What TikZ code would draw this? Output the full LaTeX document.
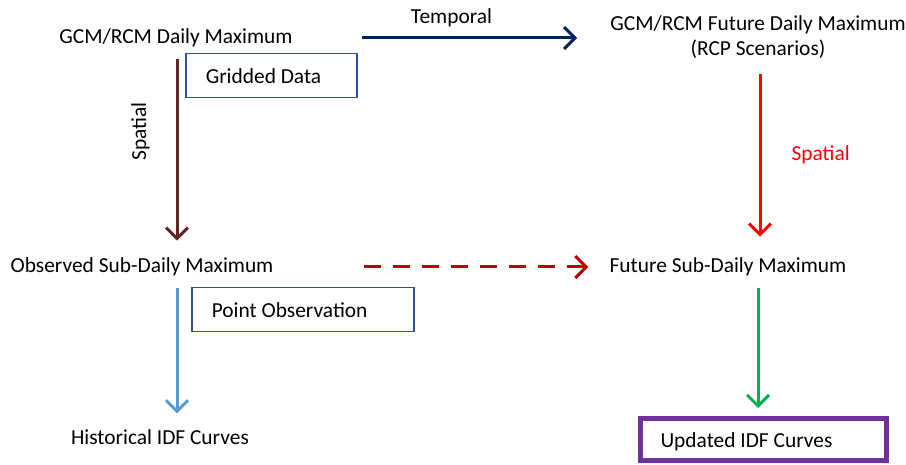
\documentclass[tikz,border=0pt]{standalone}
\usepackage{fontspec}
\setmainfont{Carlito}
\usepackage{tikz}
\usetikzlibrary{arrows.meta}

\definecolor{navyarr}{RGB}{0,32,96}
\definecolor{brownarr}{RGB}{99,37,35}
\definecolor{darkred}{RGB}{192,0,0}
\definecolor{skyarr}{RGB}{91,155,213}
\definecolor{greenarr}{RGB}{0,176,80}
\definecolor{boxblue}{RGB}{46,84,150}
\definecolor{boxpurple}{RGB}{112,48,160}

\begin{document}
\begin{tikzpicture}[x=1pt, y=-1pt, font=\fontsize{21.4}{25}\selectfont]
    \tikzstyle{lbl} = [inner sep=0pt, text=black]
    \tikzstyle{tagbox} = [draw=boxblue, line width=1.5pt, inner xsep=20pt, inner ysep=0pt, minimum height=44pt, align=flush left, anchor=north west]
    \tikzstyle{flow} = [line width=3pt, -{Straight Barb[length=11pt, width=22pt, line width=3pt]}]

    \useasboundingbox (0,0) rectangle (906,465);

    % Main quantities
    \node[lbl] (gcm) at (176,38) {GCM/RCM Daily Maximum};
    \node[lbl, align=center] (fut) at (758,37) {GCM/RCM Future Daily Maximum\\(RCP Scenarios)};
    \node[lbl] (obs) at (142,267) {Observed Sub-Daily Maximum};
    \node[lbl] (fsub) at (728,267) {Future Sub-Daily Maximum};
    \node[lbl] (hist) at (160,437) {Historical IDF Curves};
    \node[draw=boxpurple, line width=5pt, anchor=north west, minimum width=246pt, minimum height=42pt,
          text width=206pt, inner xsep=20pt, inner ysep=0pt, text height=19pt, align=flush left] (upd) at (638,416) {Updated IDF Curves};

    % Data type boxes
    \node[tagbox, text width=131pt] (grid) at (185,53) {Gridded Data};
    \node[tagbox, text width=182pt] (point) at (191,287) {Point Observation};

    % Horizontal arrows
    \draw[flow, navyarr, shorten <=69pt, shorten >=33pt] (gcm.east) -- (gcm.east -| fut.west)
        node[lbl, midway, above=10pt] (temp) {Temporal};
    \draw[flow, darkred, dashed, dash pattern=on 17pt off 12pt, shorten <=90pt, shorten >=21pt] (obs.east) -- (fsub.west);

    % Vertical arrows
    \draw[flow, brownarr, shorten <=12pt, shorten >=17pt] ([xshift=1pt]gcm.south) -- ([xshift=1pt]gcm.south |- obs.north)
        node[lbl, pos=0.4, left=26pt, rotate=90, anchor=south] (spl) {Spatial};
    \draw[flow, red, shorten <=15pt, shorten >=21pt] ([xshift=2pt]fut.south) -- ([xshift=2pt]fut.south |- fsub.north)
        node[lbl, midway, right=30pt, yshift=3pt, text=red] (spr) {Spatial};
    \draw[flow, skyarr, shorten <=12pt, shorten >=16pt] ([xshift=1pt]gcm.south |- obs.south) -- ([xshift=1pt]gcm.south |- hist.north);
    \draw[flow, greenarr, shorten <=12pt, shorten >=8pt] (fut.south |- fsub.south) -- (fut.south |- upd.north);
\end{tikzpicture}
\end{document}
